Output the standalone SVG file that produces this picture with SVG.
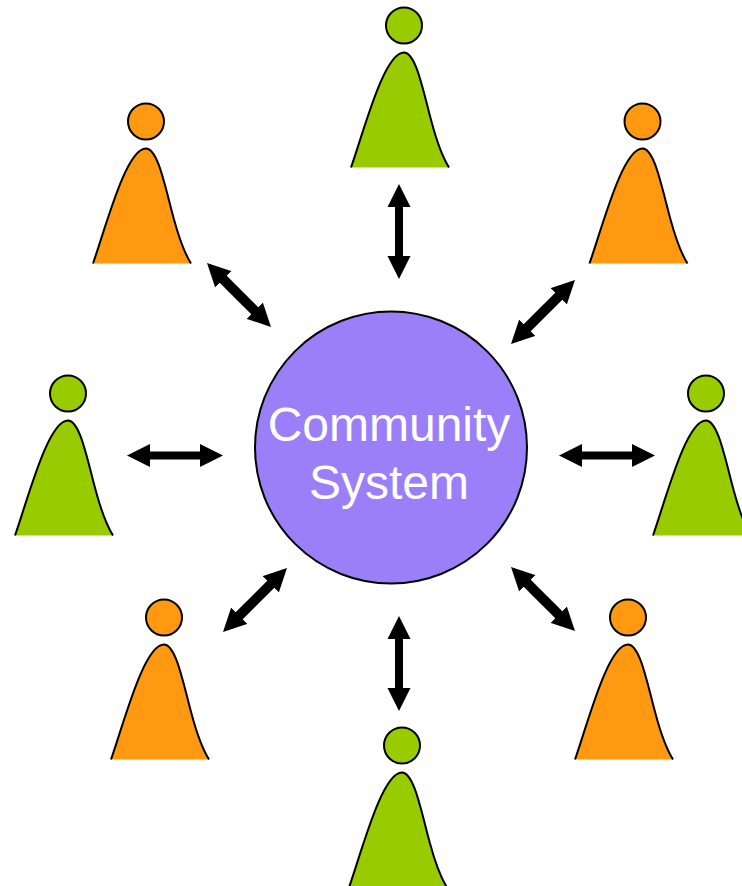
<svg xmlns="http://www.w3.org/2000/svg" width="742" height="886" viewBox="0 0 742 886">
<style>
.head{stroke:#000;stroke-width:2}
.outline{fill:none;stroke:#000;stroke-width:2}
.green{fill:#99cc00}
.orange{fill:#ff9911}
.conn{stroke:#000;stroke-width:8;fill:none;marker-start:url(#ah);marker-end:url(#ah)}
.diag{stroke-width:10}
.label{font-family:"Liberation Sans",Arial,sans-serif;font-size:48px;fill:#fff;text-anchor:middle}
</style>
<defs>
<marker id="ah" markerUnits="userSpaceOnUse" markerWidth="24" markerHeight="24" refX="10" refY="12" orient="auto-start-reverse" viewBox="0 0 24 24">
<path d="M0,0.5L23,12L0,23.5Z" fill="#000"/>
</marker>
<g id="p-body">
<path d="M-53,142C-40,105-20,27 0,27C12,27 19,65 28,98C34,120 40,134 45,142Z" stroke="none"/>
<path class="outline" d="M-53,142C-40,105-20,27 0,27C12,27 19,65 28,98C34,120 40,134 45,142"/>
<circle class="head" cx="0" cy="0" r="18"/>
</g>
</defs>
<rect width="742" height="886" fill="#fff"/>
<g id="connectors">
<line class="conn" x1="399" y1="197" x2="399" y2="266"/>
<line class="conn diag" x1="216.200" y1="272.200" x2="261.800" y2="317.800"/>
<line class="conn diag" x1="565.800" y1="289.200" x2="520.200" y2="334.800"/>
<line class="conn" x1="140" y1="455.500" x2="210" y2="455.500"/>
<line class="conn" x1="572" y1="455.500" x2="642" y2="455.500"/>
<line class="conn diag" x1="277.800" y1="577.200" x2="232.200" y2="622.800"/>
<line class="conn diag" x1="520.200" y1="576.200" x2="565.800" y2="621.800"/>
<line class="conn" x1="399" y1="629" x2="399" y2="698"/>
</g>
<g id="person-top"><use href="#p-body" class="green" x="404" y="25.500"/></g>
<g id="person-upper-left"><use href="#p-body" class="orange" x="146" y="121.500"/></g>
<g id="person-upper-right"><use href="#p-body" class="orange" x="642.500" y="121.500"/></g>
<g id="person-left"><use href="#p-body" class="green" x="68" y="393.500"/></g>
<g id="person-right"><use href="#p-body" class="green" x="706" y="393.500"/></g>
<g id="person-lower-left"><use href="#p-body" class="orange" x="164" y="617.500"/></g>
<g id="person-lower-right"><use href="#p-body" class="orange" x="628" y="617.500"/></g>
<g id="person-bottom"><use href="#p-body" class="green" x="402" y="745.500"/></g>
<g id="community-system">
<circle cx="391" cy="447.500" r="136" fill="#9a7ff8" stroke="#000" stroke-width="2"/>
<text class="label" x="389" y="441">Community</text>
<text class="label" x="389" y="499">System</text>
</g>
</svg>
